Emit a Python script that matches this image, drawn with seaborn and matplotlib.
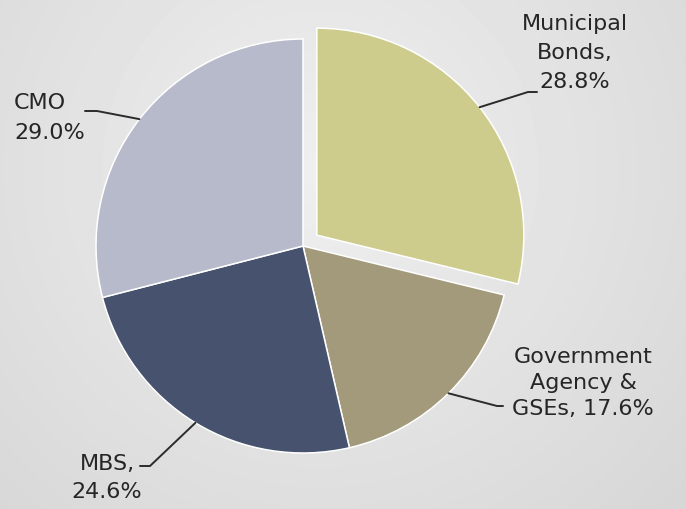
import numpy as np
import seaborn as sns
import matplotlib.pyplot as plt

# Portfolio composition
categories = ['Municipal\nBonds,', 'Government\nAgency &\nGSEs,', 'MBS,', 'CMO']
shares = [28.8, 17.6, 24.6, 29.0]
hex_colors = ['#cdcc8c', '#a39a7b', '#47536e', '#b6bacb']

sns.set_theme(style='white')
plt.rcParams['font.family'] = ['DejaVu Sans']

fig = plt.figure(figsize=(6.86, 5.10), dpi=100)

# soft grey background
bg = fig.add_axes([0, 0, 1, 1], zorder=-1)
yy, xx = np.mgrid[0:510, 0:686]
dist = np.hypot(xx - 320, yy - 170) / 520
shade = 239 - 26 * np.clip(dist, 0, 1.2)
bg.imshow(shade, cmap='gray', vmin=0, vmax=255, aspect='auto')
bg.axis('off')

# pixel -> data helper (pie centre at 303,247, radius 207 px)
def px(x, y):
    return (x - 303) / 207, (247 - y) / 207

ax = fig.add_axes([0, 0, 1, 1])
wedges, _ = ax.pie(shares, colors=sns.color_palette(hex_colors), startangle=90,
                   counterclock=False, explode=[0.085, 0, 0, 0],
                   wedgeprops=dict(edgecolor='white', linewidth=1.1))
ax.set_xlim(px(0, 0)[0], px(686, 0)[0])
ax.set_ylim(px(0, 510)[1], px(0, 0)[1])
ax.set_aspect('equal')
ax.axis('off')

# leader line elbows and label placement
elbows = [[(528, 93), (537, 93)], [(497, 407), (503, 407)],
          [(150, 467), (140, 467)], [(97, 112), (85, 112)]]
label_pos = [(575, 53, 'center', 1.55), (583, 383, 'center', 1.4),
             (107, 478, 'center', 1.55), (14, 118, 'left', 1.65)]

for w, name, val, elb, (lx, ly, ha, ls) in zip(wedges, categories, shares, elbows, label_pos):
    mid = np.deg2rad((w.theta1 + w.theta2) / 2)
    cx, cy = w.center
    pts = [(cx + w.r * np.cos(mid), cy + w.r * np.sin(mid))] + [px(*p) for p in elb]
    xs, ys = zip(*pts)
    ax.plot(xs, ys, color='#2b2b2b', lw=1.4, solid_capstyle='round')
    sep = ' ' if name.endswith('&\nGSEs,') else '\n'
    tx, ty = px(lx, ly)
    ax.text(tx, ty, f'{name}{sep}{val:.1f}%', ha=ha, va='center', multialignment=ha,
            fontsize=16, color='#262626', linespacing=ls)

fig.savefig('out.png', dpi=100)
